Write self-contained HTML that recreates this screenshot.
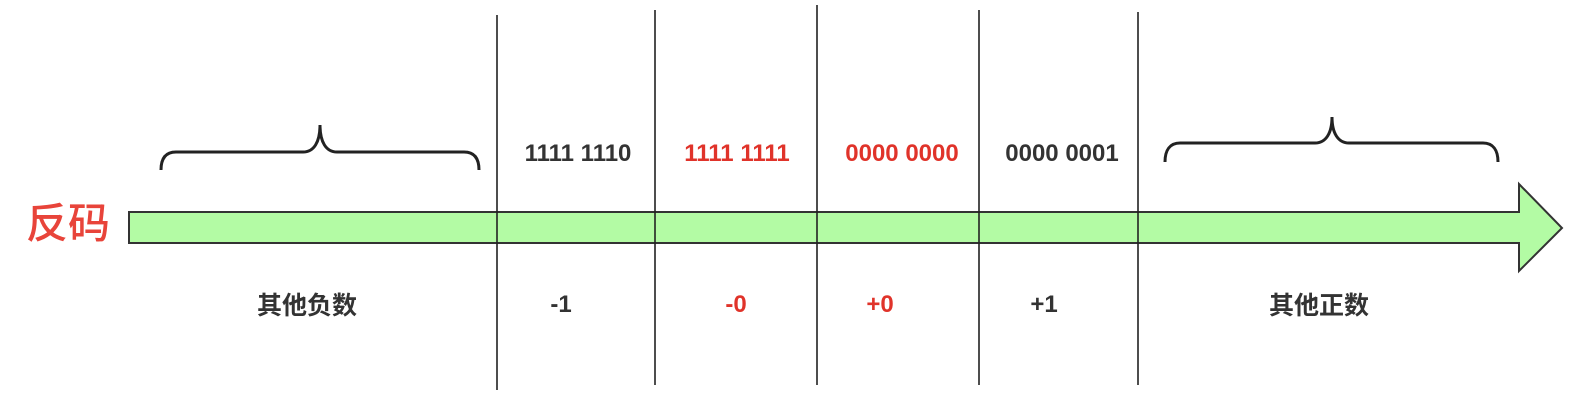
<!DOCTYPE html>
<html><head><meta charset="utf-8">
<style>
body{margin:0;background:#fff;width:1580px;height:402px;overflow:hidden}
svg{display:block}
text{font-family:"Liberation Sans","Noto Sans CJK SC",sans-serif;font-weight:bold}
</style></head>
<body>
<svg width="1580" height="402" viewBox="0 0 1580 402">
<path d="M129,212 L1519,212 L1519,184 L1562,228 L1519,271 L1519,243 L129,243 Z" fill="#b3fba4" stroke="#333" stroke-width="2"/>
<g stroke="#222" stroke-width="1.6">
<line x1="497" y1="15" x2="497" y2="390"/>
<line x1="655" y1="10" x2="655" y2="385"/>
<line x1="817" y1="5" x2="817" y2="385"/>
<line x1="979" y1="10" x2="979" y2="385"/>
<line x1="1138" y1="12" x2="1138" y2="385"/>
</g>
<path d="M161,170 C161,158 166,152 176,152 L303,152 C314,152 320,142 320,125 C320,142 326,152 337,152 L464,152 C474,152 479,158 479,170" fill="none" stroke="#222" stroke-width="3"/>
<path d="M1165,162 C1165,150 1170,143 1180,143 L1315,143 C1326,143 1332,133 1332,117 C1332,133 1338,143 1349,143 L1483,143 C1493,143 1498,150 1498,162" fill="none" stroke="#222" stroke-width="3"/>
<text x="26" y="238" font-size="42" fill="#e8443a" style="font-weight:500">反码</text>
<g font-size="25" text-anchor="middle">
<text x="578" y="161" fill="#333" font-size="24">1111 1110</text>
<text x="737" y="161" fill="#e0332a" font-size="24">1111 1111</text>
<text x="902" y="161" fill="#e0332a" font-size="24">0000 0000</text>
<text x="1062" y="161" fill="#333" font-size="24">0000 0001</text>
<text x="307" y="314" fill="#333">其他负数</text>
<text x="561" y="312" fill="#333" font-size="24">-1</text>
<text x="736" y="312" fill="#e0332a" font-size="24">-0</text>
<text x="880" y="312" fill="#e0332a" font-size="24">+0</text>
<text x="1044" y="312" fill="#333" font-size="24">+1</text>
<text x="1319" y="314" fill="#333">其他正数</text>
</g>
</svg>
</body></html>
